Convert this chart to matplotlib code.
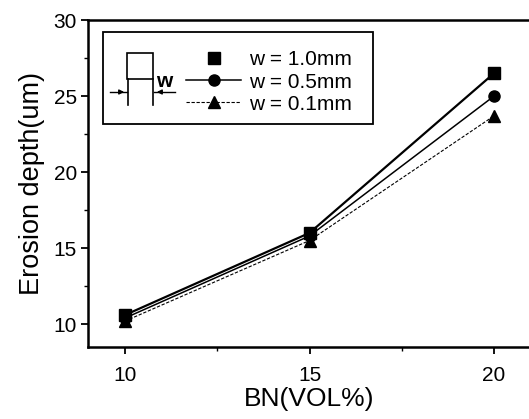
import matplotlib
matplotlib.use('Agg')
import matplotlib.pyplot as plt
from matplotlib.patches import Rectangle
from matplotlib.lines import Line2D
import numpy as np

plt.rcParams['font.family'] = ['Liberation Sans', 'DejaVu Sans']

bn = [10, 15, 20]
w10 = [10.6, 16.0, 26.5]
w05 = [10.4, 15.8, 25.0]
w01 = [10.2, 15.5, 23.7]
labels = ['w = 1.0mm', 'w = 0.5mm', 'w = 0.1mm']

W, H = 529, 419
fig = plt.figure(figsize=(W/100, H/100), dpi=100)
# right spine falls just outside the picture, as in the scan
ax = fig.add_axes([88/W, 1-347/H, (531-88)/W, (347-20)/H])

ax.plot(bn, w10, color='black', lw=1.6, marker='s', ms=8)
ax.plot(bn, w05, color='black', lw=1.1, marker='o', ms=8)
ax.plot(bn, w01, color='black', lw=0.8, ls=(0, (3, 1.5)), marker='^', ms=8)

ax.set_xlim(9, 21)
ax.set_ylim(8.5, 30)
ax.set_xticks([10, 15, 20])
ax.set_yticks([10, 15, 20, 25, 30])
ax.set_xticks([12.5, 17.5], minor=True)
ax.set_yticks([12.5, 17.5, 22.5, 27.5], minor=True)
ax.tick_params(which='major', direction='out', length=5, width=1.3, labelsize=15)
ax.tick_params(axis='x', which='major', pad=9)
ax.tick_params(axis='y', which='major', pad=3)
ax.tick_params(which='minor', direction='out', length=3, width=1.0)
for s in ax.spines.values():
    s.set_linewidth(1.8)

ax.set_xlabel('BN(VOL%)', fontsize=19, labelpad=1)
ax.set_ylabel('Erosion depth(um)', fontsize=19.5, labelpad=6)

# legend frame with the little width sketch inside it
def fp(px, py):
    return px/W, 1-py/H

x0, y0 = fp(103, 124)
x1, y1 = fp(373, 32)
fig.patches.append(Rectangle((x0, y0), x1-x0, y1-y0, transform=fig.transFigure,
                             fill=False, ec='black', lw=1.3))
sx0, sy0 = fp(127, 79)
sx1, sy1 = fp(153, 53)
fig.patches.append(Rectangle((sx0, sy0), sx1-sx0, sy1-sy0, transform=fig.transFigure,
                             fill=False, ec='black', lw=1.2))
for px in (128, 153):
    fig.add_artist(Line2D([px/W, px/W], [1-79/H, 1-105/H], transform=fig.transFigure,
                          color='black', lw=1.2))
fig.add_artist(Line2D([110/W, 127/W], [1-92/H, 1-92/H], transform=fig.transFigure, color='black', lw=1.0))
fig.add_artist(Line2D([154/W, 175/W], [1-92/H, 1-92/H], transform=fig.transFigure, color='black', lw=1.0))
ax.annotate('', xy=fp(127, 92), xytext=fp(116, 92), xycoords='figure fraction',
            arrowprops=dict(arrowstyle='-|>', color='black', lw=1.0, mutation_scale=7))
ax.annotate('', xy=fp(154, 92), xytext=fp(165, 92), xycoords='figure fraction',
            arrowprops=dict(arrowstyle='-|>', color='black', lw=1.0, mutation_scale=7))
fig.text(156/W, 1-87/H, 'w', fontsize=15, fontweight='bold', va='baseline')

handles = [Line2D([], [], color='black', lw=0, marker='s', ms=8),
           Line2D([], [], color='black', lw=1.1, marker='o', ms=8),
           Line2D([], [], color='black', lw=0.8, ls=(0, (3, 1.5)), marker='^', ms=8)]
ax.legend(handles, labels, loc='upper left', bbox_to_anchor=fp(176, 40),
          bbox_transform=fig.transFigure, frameon=False, fontsize=15,
          handlelength=2.6, handletextpad=0.4, labelspacing=0.15, borderpad=0)

fig.savefig('out.png', dpi=100)
